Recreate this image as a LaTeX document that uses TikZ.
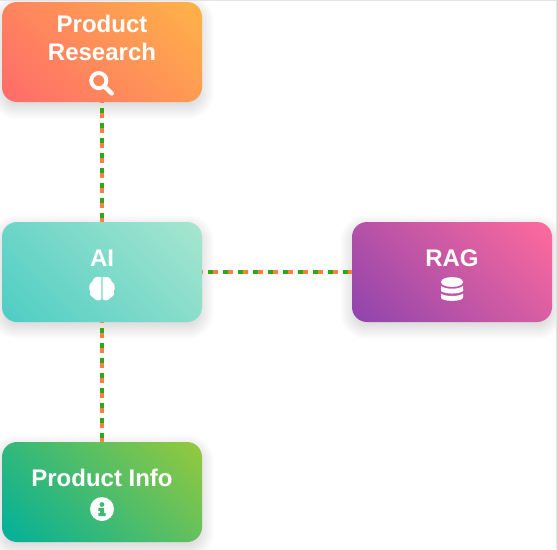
\documentclass[tikz,border=0pt]{standalone}
\usepackage{fontspec}
\setmainfont{Liberation Sans}
\usetikzlibrary{calc}
\definecolor{dashgreen}{HTML}{2FA818}
\definecolor{dashorange}{HTML}{FF7F3F}
\definecolor{framegray}{HTML}{E4E4E4}
\definecolor{aA}{HTML}{FF6B6B}\definecolor{aB}{HTML}{FFB347}
\definecolor{bA}{HTML}{4ECDC4}\definecolor{bB}{HTML}{A8E6CF}
\definecolor{cA}{HTML}{8E44AD}\definecolor{cB}{HTML}{FF6B9D}
\definecolor{dA}{HTML}{00B09B}\definecolor{dB}{HTML}{96C93D}
\tikzset{
  x=1pt,y=-1pt,
  cardbase/.style={rectangle,minimum width=200pt,minimum height=100pt,inner sep=0pt},
  card/.style n args={2}{cardbase,rounded corners=15pt,
    path picture={\shade[shading=axis,bottom color=#1,top color=#2,shading angle=-45,
      shift={(path picture bounding box.center)}]
      (-106.07pt,-106.07pt) rectangle (106.07pt,106.07pt);}},
  cardtext/.style={text=white,font=\bfseries\fontsize{24pt}{28pt}\selectfont,anchor=base,inner sep=0pt,align=center},
  linkgreen/.style={draw=dashgreen,line width=4.3pt,dash pattern=on 5pt off 10pt,dash phase=9pt},
  linkorange/.style={draw=dashorange,line width=4.3pt,dash pattern=on 5pt off 10pt,dash phase=4pt},
  softshadow/.style={fill=black,opacity=0.009,draw=none},
}
\newcommand{\cardshadow}[1]{%
  \foreach \s in {-8,-7,...,12}{%
    \pgfmathsetmacro{\rr}{max(3,15+\s)}%
    \fill[softshadow,rounded corners=\rr pt]
      ($(#1.north west)+(-\s pt,\s pt-5pt)$) rectangle ($(#1.south east)+(\s pt,-\s pt-5pt)$);%
  }}
\begin{document}
\begin{tikzpicture}
\useasboundingbox (0,0) rectangle (557,549);
\fill[white] (0,0) rectangle (557,549);
\coordinate (pa) at (102,52);
\coordinate (pb) at (102,272);
\coordinate (pc) at (452,272);
\coordinate (pd) at (102,492);
\path (pa) node[cardbase] (research) {};
\path (pb) node[cardbase] (ai) {};
\path (pc) node[cardbase] (rag) {};
\path (pd) node[cardbase] (info) {};
\cardshadow{research}\cardshadow{ai}\cardshadow{rag}\cardshadow{info}
\draw[framegray,line width=1pt] (0,0.5) -- (556.5,0.5) -- (556.5,549);
\draw[linkorange] (research.south) -- (ai.north);
\draw[linkgreen] (research.south) -- (ai.north);
\draw[linkorange] (ai.south) -- (info.north);
\draw[linkgreen] (ai.south) -- (info.north);
\draw[linkorange] (ai.east) -- (rag.west);
\draw[linkgreen] (ai.east) -- (rag.west);
\node[card={aA}{aB}] (research card) at (pa) {};
\node[card={bA}{bB}] (ai card) at (pb) {};
\node[card={cA}{cB}] (rag card) at (pc) {};
\node[card={dA}{dB}] (info card) at (pd) {};
\node[cardtext] (t1) at (102,32) {Product};
\node[cardtext] (t2) at (102,60) {Research};
\node[cardtext] (t3) at (102,266) {AI};
\node[cardtext] (t4) at (452,266) {RAG};
\node[cardtext] (t5) at (102,486) {Product Info};
% magnifier
\draw[white,line width=3.9pt] (98.8,80.6) circle[radius=7.6];
\draw[white,line width=4.4pt,line cap=round] (104.5,86.5) -- (111.8,93.4);
% brain
\fill[white] (101.3,277) .. controls (96,276) and (93,278) .. (92.4,281.5)
  .. controls (89,283.5) and (88.3,289) .. (90.2,291) .. controls (89,294.5) and (91.3,297.5) .. (93.8,298)
  .. controls (96,301) and (100,301) .. (101.3,299) -- cycle;
\fill[white] (102.7,277) .. controls (108,276) and (111,278) .. (111.6,281.5)
  .. controls (115,283.5) and (115.7,289) .. (113.8,291) .. controls (115,294.5) and (112.7,297.5) .. (110.2,298)
  .. controls (108,301) and (104,301) .. (102.7,299) -- cycle;
% database
\fill[white] (441,282) .. controls (441,275.5) and (463,275.5) .. (463,282)
  .. controls (463,288.5) and (441,288.5) .. (441,282) -- cycle;
\fill[white] (441,286) .. controls (445,289.6) and (459,289.6) .. (463,286) -- (463,291)
  .. controls (459,294.4) and (445,294.4) .. (441,291) -- cycle;
\fill[white] (441,293.6) .. controls (445,296.8) and (459,296.8) .. (463,293.6) -- (463,297.5)
  .. controls (463,302) and (441,302) .. (441,297.5) -- cycle;
% info
\fill[white] (102,509) circle[radius=12];
\fill[dA!60!dB] (102,504.5) circle[radius=2.4];
\fill[dA!60!dB] (98.4,507.8) -- (104,507.8) -- (104,513) -- (105.6,513) -- (105.6,516) -- (98.4,516) -- (98.4,513) -- (100,513) -- (100,510.8) -- (98.4,510.8) -- cycle;
\end{tikzpicture}
\end{document}
